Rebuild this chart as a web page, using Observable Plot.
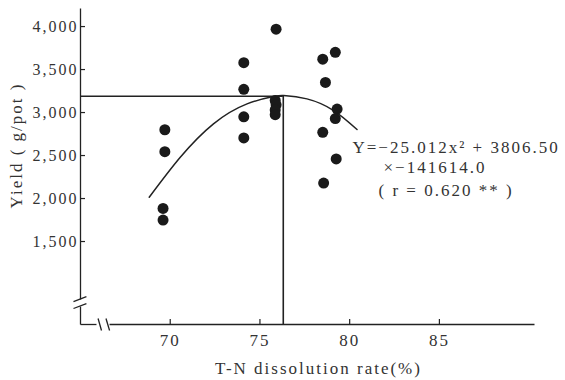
<!DOCTYPE html>
<html><head><meta charset="utf-8">
<script src="https://cdn.jsdelivr.net/npm/d3@7"></script>
<script src="https://cdn.jsdelivr.net/npm/@observablehq/plot@0.6"></script>
<style>
html,body{margin:0;padding:0;background:#fff;}
#chart text{letter-spacing:2px;}
</style></head><body><div id="chart"></div>
<script>
// Observations (T-N dissolution rate %, yield g/pot)
const rateX = [75.9, 74.1, 74.1, 74.1, 74.1, 69.7, 69.7, 69.6, 69.6, 75.85, 75.9, 75.85, 75.85, 78.5, 79.2, 78.65, 79.3, 79.2, 78.5, 79.25, 78.55];
const yieldY = [3970, 3580, 3270, 2950, 2705, 2800, 2545, 1885, 1750, 3140, 3090, 3030, 2975, 3620, 3700, 3350, 3040, 2930, 2770, 2460, 2180];
// Fitted curve
const curveX = [68.83, 70.56, 72.41, 74.28, 75.76, 76.32, 77.62, 79.11, 80.41];
const curveY = [2015, 2480, 2869, 3101, 3186, 3198, 3159, 3023, 2802];
// Axes
const xTicks = [70, 75, 80, 85];
const yTicks = [1500, 2000, 2500, 3000, 3500, 4000];
const xDomain = [65, 90.3];
const yDomain = [535, 4210];
// Optimum
const peakX = 76.3, peakY = 3190;
// Axis breaks (data units)
const yAxisSegs = [[4210, 826], [744, 535]];
const yBreakMarks = [[64.61, 802, 65.33, 860], [64.61, 721, 65.33, 779]];
const xAxisSegs = [[65, 65.89], [66.62, 90.3]];
const xBreakMarks = [[65.98, 605, 66.17, 465], [66.42, 605, 66.62, 465]];
// Texts
const eqLines = ["Y=−25.012x² + 3806.50", "×−141614.0", "( r = 0.620 ** )"];
const xLabel = "T-N dissolution rate(%)";
const yLabel = "Yield ( g/pot )";

const pts = rateX.map((x, i) => ({x, y: yieldY[i]}));
const curve = curveX.map((x, i) => ({x, y: curveY[i]}));
const ink = "#222";
const font = "Liberation Serif";
const W = 565, H = 380, mL = 80, mR = 31, mT = 8, mB = 56, tickLen = 5;
const frameW = W - mL - mR, frameH = H - mT - mB;

const chart = Plot.plot({
  width: W, height: H,
  marginLeft: mL, marginRight: mR, marginTop: mT, marginBottom: mB,
  style: {fontFamily: font, background: "#fff", color: "#333", overflow: "visible"},
  x: {domain: xDomain, axis: null},
  y: {domain: yDomain, axis: null},
  marks: [
    Plot.link(yAxisSegs, {x1: () => xDomain[0], x2: () => xDomain[0], y1: d => d[0], y2: d => d[1], stroke: ink, strokeWidth: 1.3}),
    Plot.link(xAxisSegs, {x1: d => d[0], x2: d => d[1], y1: () => yDomain[0], y2: () => yDomain[0], stroke: ink, strokeWidth: 1.3}),
    Plot.link(yBreakMarks, {x1: d => d[0], y1: d => d[1], x2: d => d[2], y2: d => d[3], stroke: ink, strokeWidth: 1.3}),
    Plot.link(xBreakMarks, {x1: d => d[0], y1: d => d[1], x2: d => d[2], y2: d => d[3], stroke: ink, strokeWidth: 1.3}),
    Plot.tickY(yTicks, {y: d => d, insetRight: frameW - tickLen, stroke: ink, strokeWidth: 1.2}),
    Plot.tickX(xTicks, {x: d => d, insetTop: frameH - tickLen, stroke: ink, strokeWidth: 1.2}),
    Plot.axisY({ticks: yTicks, tickFormat: d3.format(","), tickSize: 0, tickPadding: 2, fontSize: 16, label: null}),
    Plot.axisX({ticks: xTicks, tickSize: 0, tickPadding: 9, fontSize: 17, label: null}),
    Plot.ruleY([peakY], {x1: xDomain[0], x2: peakX, stroke: ink, strokeWidth: 1.4}),
    Plot.ruleX([peakX], {y1: yDomain[0], y2: peakY, stroke: ink, strokeWidth: 1.6}),
    Plot.line(curve, {x: "x", y: "y", curve: "natural", stroke: ink, strokeWidth: 1.5}),
    Plot.dot(pts, {x: "x", y: "y", r: 5.5, fill: "#1a1a1a", stroke: "none"}),
    Plot.text([eqLines[0]], {frameAnchor: "top-left", dx: 272, dy: 139, textAnchor: "start", lineAnchor: "middle", fontSize: 17, fill: "#333"}),
    Plot.text([eqLines[1]], {frameAnchor: "top-left", dx: 303, dy: 159, textAnchor: "start", lineAnchor: "middle", fontSize: 17, fill: "#333"}),
    Plot.text([eqLines[2]], {frameAnchor: "top-left", dx: 298, dy: 182, textAnchor: "start", lineAnchor: "middle", fontSize: 17, fill: "#333"}),
    Plot.text([xLabel], {frameAnchor: "bottom", dx: 11, dy: 44, textAnchor: "middle", lineAnchor: "middle", fontSize: 17, fill: "#333"}),
    Plot.text([yLabel], {frameAnchor: "left", dx: -64, dy: -21, rotate: -90, textAnchor: "middle", lineAnchor: "middle", fontSize: 17, fill: "#333"})
  ]
});
document.getElementById("chart").appendChild(chart);
</script></body></html>
